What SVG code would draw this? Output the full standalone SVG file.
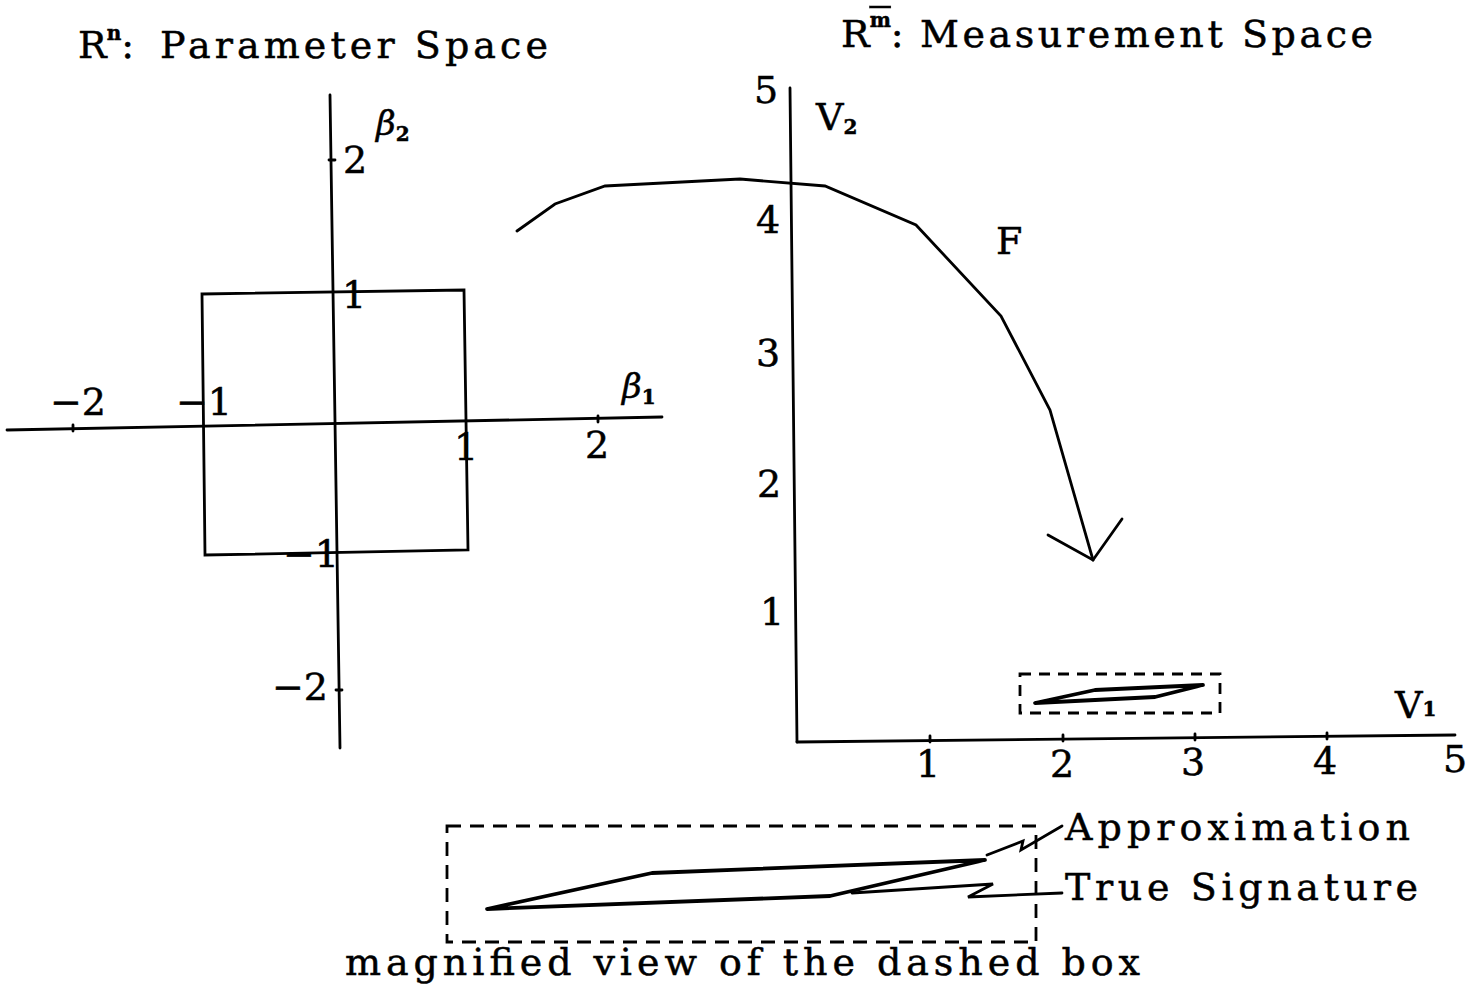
<svg xmlns="http://www.w3.org/2000/svg" width="1480" height="996" viewBox="0 0 1480 996">
<style>
.ax{stroke:#000;stroke-width:2.8;fill:none;stroke-linecap:round}
.sh{stroke:#000;stroke-width:3.8;fill:none;stroke-linejoin:round}
.dash{stroke:#000;stroke-width:2.8;fill:none;stroke-dasharray:14 9}
.dsm{stroke:#000;stroke-width:2.8;fill:none;stroke-dasharray:11 8}
text{font-family:"DejaVu Serif","Liberation Serif",serif;fill:#000;stroke:#000;stroke-width:0.5}
.t{font-size:38px}
.n{font-size:38px}
.g{font-family:"DejaVu Serif","Liberation Serif",serif;font-style:italic;font-size:34px}
.s{font-size:20px;font-weight:bold}
</style>
<rect width="1480" height="996" fill="#fff"/>
<g id="title-left">
<text class="t" x="78" y="58">R<tspan class="s" dy="-18">n</tspan><tspan dy="18">:</tspan></text>
<text class="t" x="160" y="58" textLength="388" lengthAdjust="spacing">Parameter Space</text>
</g>
<g id="title-right">
<text class="t" x="841" y="47">R<tspan class="s" dy="-20" text-decoration="overline">m</tspan><tspan dy="20">:</tspan></text>
<text class="t" x="920" y="47" textLength="453" lengthAdjust="spacing">Measurement Space</text>
</g>
<g id="parameter-axes">
<line class="ax" x1="7" y1="430" x2="662" y2="417"/>
<line class="ax" x1="330" y1="95" x2="340" y2="748"/>
<line class="ax" x1="73" y1="425" x2="73" y2="431"/>
<line class="ax" x1="598" y1="416" x2="598" y2="422"/>
<line class="ax" x1="329" y1="160" x2="335" y2="160"/>
<line class="ax" x1="336" y1="690" x2="342" y2="690"/>
<text class="n" x="50" y="415">−2</text>
<text class="n" x="176" y="415">−1</text>
<text class="n" x="454" y="460">1</text>
<text class="n" x="585" y="458">2</text>
<text class="n" x="343" y="173">2</text>
<text class="n" x="342" y="308">1</text>
<text class="n" x="283" y="567">−1</text>
<text class="n" x="272" y="700">−2</text>
<text class="g" x="622" y="398">β<tspan class="s" font-style="normal" dy="6">1</tspan></text>
<text class="g" x="376" y="135">β<tspan class="s" font-style="normal" dy="6">2</tspan></text>
</g>
<g id="unit-box">
<polygon class="ax" points="202,294 464,290 468,550 205,555"/>
</g>
<g id="measurement-axes">
<line class="ax" x1="790" y1="88" x2="797" y2="742"/>
<line class="ax" x1="797" y1="742" x2="1455" y2="735"/>
<line class="ax" x1="930" y1="736" x2="930" y2="742"/>
<line class="ax" x1="1063" y1="735" x2="1063" y2="741"/>
<line class="ax" x1="1195" y1="734" x2="1195" y2="740"/>
<line class="ax" x1="1327" y1="733" x2="1327" y2="739"/>
<text class="n" x="754" y="103">5</text>
<text class="n" x="756" y="233">4</text>
<text class="n" x="756" y="366">3</text>
<text class="n" x="757" y="497">2</text>
<text class="n" x="760" y="625">1</text>
<text class="n" x="916" y="777">1</text>
<text class="n" x="1050" y="777">2</text>
<text class="n" x="1181" y="775">3</text>
<text class="n" x="1313" y="774">4</text>
<text class="n" x="1443" y="772">5</text>
<text class="n" x="816" y="130">V<tspan class="s" dy="4">2</tspan></text>
<text class="n" x="1395" y="718">V<tspan class="s" dy="-2">1</tspan></text>
</g>
<g id="small-dashed-box">
<rect class="dsm" x="1020" y="674" width="200" height="39"/>
<polygon class="sh" points="1035,703 1095,690 1203,685 1155,697"/>
</g>
<g id="connectors">
<polyline class="ax" points="517,231 555,204 605,186 740,179 825,186 916,225 1001,316 1050,410 1093,560"/>
<polyline class="ax" points="1048,535 1093,560 1122,519"/>
<text class="n" x="996" y="254">F</text>
<polyline class="ax" points="987,855 1023,841 1021,850 1062,826"/>
<polyline class="ax" points="852,893 993,884 968,897 1062,893"/>
</g>
<g id="magnified-view">
<rect class="dash" x="447" y="826" width="589" height="116"/>
<polygon class="sh" points="487,909 652,873 985,860 830,896"/>
<text class="t" x="1065" y="840" textLength="345" lengthAdjust="spacing">Approximation</text>
<text class="t" x="1065" y="900" textLength="353" lengthAdjust="spacing">True Signature</text>
<text class="t" x="345" y="975" textLength="795" lengthAdjust="spacing">magnified view of the dashed box</text>
</g>
</svg>
